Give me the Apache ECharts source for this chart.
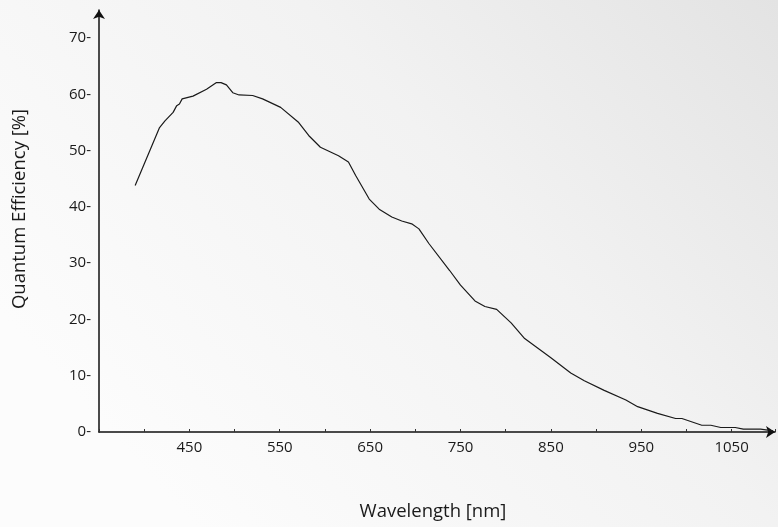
<!DOCTYPE html>
<html>
<head>
<meta charset="utf-8">
<script src="https://cdn.jsdelivr.net/npm/echarts@6/dist/echarts.min.js"></script>
<style>
html,body{margin:0;padding:0;}
#chart{width:778px;height:527px;}
</style>
</head>
<body>
<div id="chart"></div>
<script>
// Wavelength (nm)
const wavelengths = [390, 417, 423, 432, 436, 439, 442, 454, 469, 480, 485, 491, 498, 505, 520, 531, 551, 571, 582, 595, 615, 626, 634, 649, 660, 674, 685, 696, 704, 715, 738, 750, 766, 777, 790, 806, 821, 850, 872, 887, 909, 933, 946, 968, 988, 995, 1017, 1027, 1038, 1054, 1063, 1082, 1096];
// Quantum efficiency (%)
const efficiency = [43.8, 54.1, 55.3, 56.8, 58.0, 58.3, 59.2, 59.7, 60.9, 62.1, 62.1, 61.7, 60.3, 59.9, 59.8, 59.2, 57.7, 55.0, 52.7, 50.6, 49.1, 48.0, 45.6, 41.4, 39.6, 38.2, 37.5, 37.0, 36.1, 33.5, 28.7, 26.1, 23.3, 22.3, 21.8, 19.4, 16.6, 13.2, 10.5, 9.1, 7.4, 5.7, 4.5, 3.3, 2.4, 2.4, 1.2, 1.2, 0.8, 0.8, 0.5, 0.5, 0.2];
const xLabelValues = [450, 550, 650, 750, 850, 950, 1050];
const yLabelValues = [0, 10, 20, 30, 40, 50, 60, 70];

const chart = echarts.init(document.getElementById('chart'));
const font = 'Open Sans';
const seriesData = wavelengths.map((w, i) => [w, efficiency[i]]);

chart.setOption({
  animation: false,
  backgroundColor: {
    type: 'linear', x: 1, y: 0, x2: 0.25, y2: 1,
    colorStops: [
      { offset: 0, color: '#e3e3e3' },
      { offset: 0.45, color: '#f2f2f2' },
      { offset: 1, color: '#fcfcfc' }
    ]
  },
  grid: { left: 99, right: 0, top: 10, bottom: 95, containLabel: false },
  xAxis: {
    type: 'value',
    min: 350, max: 1098, interval: 50,
    name: 'Wavelength [nm]',
    nameLocation: 'middle',
    nameGap: 70,
    nameTextStyle: { fontFamily: font, fontSize: 18.5, color: '#1a1a1a', padding: [0, 8, 0, 0] },
    axisLine: { show: true, symbol: ['none', 'arrow'], symbolSize: [9, 9], lineStyle: { color: '#111', width: 1.5 } },
    axisTick: { show: true, inside: true, length: 3, lineStyle: { color: '#333', width: 1 } },
    axisLabel: {
      fontFamily: font, fontSize: 15, color: '#1a1a1a', margin: 8,
      formatter: v => xLabelValues.includes(v) ? String(v) : ''
    },
    splitLine: { show: false }
  },
  yAxis: {
    type: 'value',
    min: 0, max: 75, interval: 10,
    name: 'Quantum Efficiency [%]',
    nameLocation: 'middle',
    nameGap: 70,
    nameTextStyle: { fontFamily: font, fontSize: 18.5, color: '#1a1a1a', padding: [0, 0, 0, 24] },
    axisLine: { show: true, symbol: ['none', 'arrow'], symbolSize: [9, 9], lineStyle: { color: '#111', width: 1.5 } },
    axisTick: { show: false },
    axisLabel: {
      fontFamily: font, fontSize: 15, color: '#1a1a1a', margin: 8,
      formatter: v => yLabelValues.includes(v) ? v + '-' : ''
    },
    splitLine: { show: false }
  },
  series: [{
    type: 'line',
    data: seriesData,
    showSymbol: false,
    symbol: 'none',
    lineStyle: { color: '#1a1a1a', width: 1.2 },
    silent: true
  }]
});
</script>
</body>
</html>
